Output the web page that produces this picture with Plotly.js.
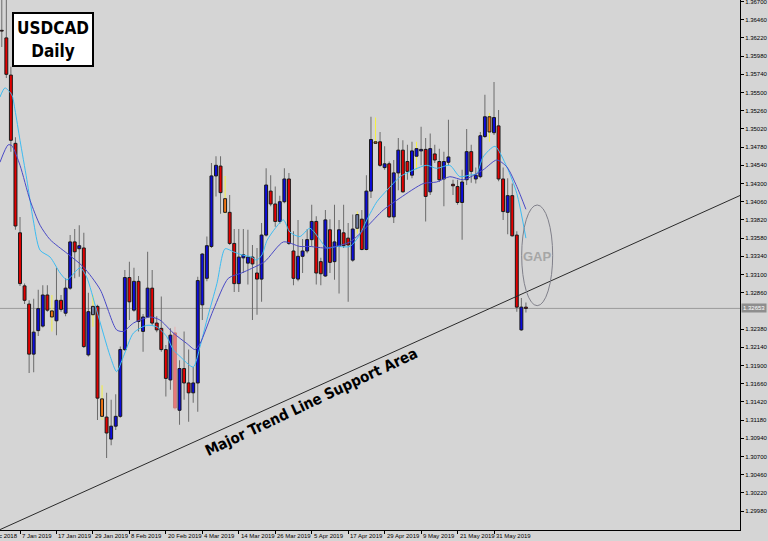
<!DOCTYPE html>
<html><head><meta charset="utf-8">
<script src="https://cdn.plot.ly/plotly-3.0.1.min.js"></script>
<style>html,body{margin:0;padding:0;background:#d5d5d5;}#chart{width:768px;height:541px;}</style>
</head><body><div id="chart"></div>
<script>
// Daily trading dates (one per candle)
const dates = [
'2018-12-31','2019-01-02','2019-01-03','2019-01-04',
'2019-01-07','2019-01-08','2019-01-09','2019-01-10','2019-01-11',
'2019-01-14','2019-01-15','2019-01-16','2019-01-17','2019-01-18',
'2019-01-21','2019-01-22','2019-01-23','2019-01-24','2019-01-25',
'2019-01-28','2019-01-29','2019-01-30','2019-01-31','2019-02-01',
'2019-02-04','2019-02-05','2019-02-06','2019-02-07','2019-02-08',
'2019-02-11','2019-02-12','2019-02-13','2019-02-14','2019-02-15',
'2019-02-18','2019-02-19','2019-02-20','2019-02-21','2019-02-22',
'2019-02-25','2019-02-26','2019-02-27','2019-02-28','2019-03-01',
'2019-03-04','2019-03-05','2019-03-06','2019-03-07','2019-03-08',
'2019-03-11','2019-03-12','2019-03-13','2019-03-14','2019-03-15',
'2019-03-18','2019-03-19','2019-03-20','2019-03-21','2019-03-22',
'2019-03-25','2019-03-26','2019-03-27','2019-03-28','2019-03-29',
'2019-04-01','2019-04-02','2019-04-03','2019-04-04','2019-04-05',
'2019-04-08','2019-04-09','2019-04-10','2019-04-11','2019-04-12',
'2019-04-15','2019-04-16','2019-04-17','2019-04-18','2019-04-19',
'2019-04-22','2019-04-23','2019-04-24','2019-04-25','2019-04-26',
'2019-04-29','2019-04-30','2019-05-01','2019-05-02','2019-05-03',
'2019-05-06','2019-05-07','2019-05-08','2019-05-09','2019-05-10',
'2019-05-13','2019-05-14','2019-05-15','2019-05-16','2019-05-17',
'2019-05-20','2019-05-21','2019-05-22','2019-05-23','2019-05-24',
'2019-05-27','2019-05-28','2019-05-29','2019-05-30','2019-05-31',
'2019-06-03','2019-06-04','2019-06-05','2019-06-06','2019-06-07',
'2019-06-10','2019-06-11'];

const open = [
1.3632,1.3622,1.3573,1.3483,
1.3365,1.3295,1.3271,1.3205,1.3236,
1.3242,1.3283,1.3262,1.3249,1.3276,
1.3259,1.3292,1.3353,1.3344,1.3345,
1.3204,1.3257,1.3268,1.3146,1.3122,
1.3093,1.3110,1.3123,1.3211,1.3306,
1.3263,1.3301,1.3235,1.3254,1.3292,
1.3246,1.3239,1.3211,1.3171,1.3233,
1.3131,1.3186,1.3167,1.3154,1.3167,
1.3270,1.3305,1.3347,1.3440,1.3453,
1.3410,1.3392,1.3351,1.3298,1.3332,
1.3325,1.3333,1.3312,1.3304,1.3362,
1.3420,1.3403,1.3380,1.3406,1.3436,
1.3341,1.3304,1.3334,1.3341,1.3356,
1.3380,1.3327,1.3308,1.3369,1.3327,
1.3347,1.3365,1.3358,1.3329,1.3371,
1.3383,1.3343,1.3420,1.3485,1.3485,
1.3451,1.3456,1.3386,1.3444,1.3474,
1.3459,1.3441,1.3466,1.3473,1.3475,
1.3419,1.3469,1.3459,1.3436,1.3458,
1.3429,1.3426,1.3405,1.3435,1.3472,
1.3436,1.3439,1.3492,1.3518,1.3497,
1.3506,1.3436,1.3392,1.3414,1.3362,
1.3237,1.3267];

const high = [
1.3675,1.3674,1.3584,1.3491,
1.3386,1.3298,1.3276,1.3278,1.3290,
1.3296,1.3296,1.3283,1.3319,1.3283,
1.3305,1.3362,1.3370,1.3375,1.3365,
1.3286,1.3283,1.3270,1.3164,1.3154,
1.3145,1.3152,1.3215,1.3316,1.3327,
1.3319,1.3308,1.3258,1.3340,1.3316,
1.3255,1.3281,1.3217,1.3239,1.3241,
1.3197,1.3235,1.3211,1.3188,1.3307,
1.3338,1.3360,1.3457,1.3466,1.3466,
1.3440,1.3415,1.3370,1.3370,1.3370,
1.3369,1.3349,1.3345,1.3378,1.3450,
1.3441,1.3426,1.3414,1.3450,1.3444,
1.3367,1.3382,1.3357,1.3370,1.3402,
1.3387,1.3332,1.3395,1.3383,1.3402,
1.3382,1.3402,1.3378,1.3389,1.3393,
1.3395,1.3441,1.3518,1.3517,1.3498,
1.3479,1.3459,1.3461,1.3490,1.3487,
1.3481,1.3485,1.3485,1.3505,1.3490,
1.3496,1.3481,1.3476,1.3472,1.3514,
1.3435,1.3435,1.3448,1.3502,1.3481,
1.3451,1.3498,1.3547,1.3523,1.3564,
1.3527,1.3451,1.3437,1.3430,1.3367,
1.3279,1.3273];

const low = [
1.3610,1.3569,1.3472,1.3369,
1.3295,1.3271,1.3180,1.3181,1.3229,
1.3240,1.3261,1.3235,1.3230,1.3261,
1.3255,1.3290,1.3305,1.3307,1.3213,
1.3202,1.3241,1.3118,1.3118,1.3068,
1.3085,1.3105,1.3121,1.3209,1.3250,
1.3261,1.3235,1.3208,1.3253,1.3243,
1.3234,1.3208,1.3149,1.3158,1.3131,
1.3112,1.3145,1.3116,1.3141,1.3129,
1.3250,1.3301,1.3345,1.3413,1.3390,
1.3390,1.3349,1.3287,1.3287,1.3312,
1.3297,1.3250,1.3257,1.3274,1.3360,
1.3400,1.3373,1.3377,1.3404,1.3349,
1.3296,1.3301,1.3312,1.3338,1.3347,
1.3297,1.3296,1.3307,1.3312,1.3303,
1.3285,1.3345,1.3274,1.3327,1.3364,
1.3342,1.3342,1.3411,1.3482,1.3452,
1.3448,1.3385,1.3378,1.3421,1.3418,
1.3435,1.3437,1.3448,1.3454,1.3380,
1.3415,1.3457,1.3432,1.3400,1.3454,
1.3415,1.3402,1.3356,1.3428,1.3431,
1.3430,1.3437,1.3490,1.3485,1.3494,
1.3433,1.3382,1.3363,1.3360,1.3261,
1.3236,1.3260];

const close = [
1.3631,1.3574,1.3487,1.3374,
1.3298,1.3276,1.3205,1.3234,1.3265,
1.3283,1.3263,1.3254,1.3276,1.3264,
1.3292,1.3353,1.3340,1.3348,1.3215,
1.3261,1.3268,1.3147,1.3123,1.3101,
1.3110,1.3123,1.3211,1.3306,1.3274,
1.3301,1.3248,1.3254,1.3292,1.3246,
1.3237,1.3211,1.3173,1.3230,1.3134,
1.3186,1.3167,1.3154,1.3167,1.3302,
1.3337,1.3348,1.3440,1.3454,1.3418,
1.3392,1.3351,1.3298,1.3333,1.3336,
1.3333,1.3324,1.3304,1.3362,1.3428,
1.3403,1.3380,1.3406,1.3436,1.3351,
1.3305,1.3334,1.3341,1.3356,1.3380,
1.3312,1.3311,1.3382,1.3326,1.3353,
1.3369,1.3348,1.3349,1.3370,1.3389,
1.3343,1.3420,1.3488,1.3483,1.3454,
1.3456,1.3386,1.3444,1.3474,1.3419,
1.3446,1.3473,1.3476,1.3475,1.3413,
1.3476,1.3461,1.3435,1.3459,1.3465,
1.3427,1.3405,1.3432,1.3472,1.3446,
1.3441,1.3493,1.3518,1.3498,1.3517,
1.3436,1.3393,1.3414,1.3361,1.3267,
1.3267,1.32653];

// Candles highlighted by the chart's indicator
const pinBars = ['2019-01-16','2019-01-31','2019-03-11','2019-04-25','2019-05-30'];
const greyBars = ['2019-01-29','2019-04-19'];
const yellowWickBars = ['2019-05-08'];
const paleBars = ['2019-02-22'];

// Moving averages (bar position, price)
const fastBar = [-0.4,0.7,2.2,2.9,4,5.5,6.9,8.4,10.6,12.8,14.3,17.2,18.6,20.8,23.8,25.2,26.7,28.9,31.8,34,36.2,37.6,39.1,42,43.5,45,47.2,49,50.8,52.6,54.8,55.9,57.1,58.2,60,61.8,63.2,65.4,67.6,69.8,71.3,73.5,76.4,78.5,80.1,82.3,84.5,87.4,89.6,93.2,95.4,98.3,100.5,102.5,104.2,105.6,108.2,110.8,113,115];
const fastMA = [1.3544,1.3556,1.3547,1.3527,1.3487,1.3435,1.3382,1.3342,1.3333,1.3312,1.3303,1.3319,1.3307,1.3263,1.3202,1.3182,1.3202,1.3233,1.3243,1.3241,1.3228,1.3211,1.3202,1.3188,1.3215,1.3250,1.3298,1.3344,1.3340,1.3336,1.3333,1.3329,1.3336,1.3355,1.3371,1.3382,1.3366,1.3360,1.3371,1.3356,1.3345,1.3347,1.3347,1.3362,1.3382,1.3406,1.3421,1.3439,1.3446,1.3454,1.3450,1.3454,1.3439,1.3441,1.3443,1.3465,1.3479,1.3452,1.3417,1.3358];
const slowBar = [-0.4,1.4,2.2,4,6.2,8.4,10.6,14.3,17.9,21.6,25.2,26.7,28.9,32.5,34.7,37.6,40.6,42.4,43.5,46.4,49.7,52.6,54.8,57.7,61.8,65.4,67.6,71.3,76.4,80.1,83.7,87.4,92.5,95.4,98.3,101.3,105.6,108.6,110.8,113,115];
const slowMA = [1.3458,1.3481,1.3480,1.3454,1.3408,1.3375,1.3356,1.3338,1.3320,1.3290,1.3237,1.3235,1.3246,1.3254,1.3250,1.3233,1.3219,1.3211,1.3219,1.3263,1.3305,1.3312,1.3318,1.3327,1.3353,1.3347,1.3347,1.3345,1.3353,1.3373,1.3395,1.3411,1.3430,1.3432,1.3439,1.3435,1.3448,1.3461,1.3452,1.3426,1.3396];

// Trend line anchor points (bar position, price)
const trendBar = [-0.39, 161.97];
const trendPrice = [1.29736, 1.34142];

const tickDates = ['2019-01-07','2019-01-17','2019-01-29','2019-02-08','2019-02-20','2019-03-04','2019-03-14','2019-03-26','2019-04-05','2019-04-17','2019-04-29','2019-05-09','2019-05-21','2019-05-31'];
const tickLabels = ['7 Jan 2019','17 Jan 2019','29 Jan 2019','8 Feb 2019','20 Feb 2019','4 Mar 2019','14 Mar 2019','26 Mar 2019','5 Apr 2019','17 Apr 2019','29 Apr 2019','9 May 2019','21 May 2019','31 May 2019'];
const priceTicks = [1.2998,1.3022,1.3046,1.3070,1.3094,1.3118,1.3142,1.3166,1.3190,1.3214,1.3238,1.3286,1.3310,1.3334,1.3358,1.3382,1.3406,1.3430,1.3454,1.3478,1.3502,1.3526,1.3550,1.3574,1.3598,1.3622,1.3646,1.3670];

const BLUE = '#0c0cdc', RED = '#e40000';
const YELLOW = '#f4f040';
const pos = dates.map((d, k) => k);

function bodyFill(k) {
  const d = dates[k];
  if (pinBars.includes(d)) return '#f07412';
  if (greyBars.includes(d)) return '#7482a8';
  if (paleBars.includes(d)) return '#e67a7a';
  return close[k] >= open[k] ? BLUE : RED;
}
function wickColor(k) {
  const d = dates[k];
  if (pinBars.includes(d) || greyBars.includes(d) || yellowWickBars.includes(d)) return YELLOW;
  if (paleBars.includes(d)) return '#eab0b0';
  return '#6c6c6c';
}
function bodyLine(k) {
  return paleBars.includes(dates[k]) ? '#c88080' : '#1a1a1a';
}

const traces = [
  {type: 'scatter', mode: 'lines', x: trendBar, y: trendPrice,
   line: {color: '#2a2a2a', width: 1}, hoverinfo: 'skip'},
  // wicks: high-low range of each candle
  {type: 'bar', x: pos, base: pos.map(k => low[k]), y: pos.map(k => high[k] - low[k]),
   width: 0.22, marker: {color: pos.map(wickColor), line: {width: 0}}, hoverinfo: 'skip'},
  // bodies: open-close range of each candle
  {type: 'bar', x: pos, base: pos.map(k => Math.min(open[k], close[k])),
   y: pos.map(k => Math.max(Math.abs(close[k] - open[k]), 0.00008)),
   width: 0.64, marker: {color: pos.map(bodyFill), line: {width: 1, color: pos.map(bodyLine)}}, hoverinfo: 'skip'},
  {type: 'scatter', mode: 'lines', x: fastBar, y: fastMA,
   line: {color: '#3cbcf2', width: 1, shape: 'spline', smoothing: 0.7}, hoverinfo: 'skip'},
  {type: 'scatter', mode: 'lines', x: slowBar, y: slowMA,
   line: {color: '#4a4ac6', width: 1, shape: 'spline', smoothing: 0.7}, hoverinfo: 'skip'}
];

const lastClose = close[close.length - 1];
const smallFont = {family: 'Liberation Sans, Arial, sans-serif', size: 6, color: '#000'};
const heavy = "'Liberation Sans Narrow', 'DejaVu Sans Condensed', 'Liberation Sans', Arial, sans-serif";

const dateAnnotations = tickDates.map((d, j) => ({
  xref: 'x', yref: 'paper', x: dates.indexOf(d), y: 0, xanchor: 'left', yanchor: 'top',
  xshift: 0, yshift: -1, text: tickLabels[j], showarrow: false, font: smallFont
}));

const layout = {
  width: 768, height: 541,
  margin: {l: 0, r: 28, t: 0, b: 11},
  paper_bgcolor: '#d5d5d5', plot_bgcolor: '#d5d5d5',
  showlegend: false, barmode: 'overlay',
  xaxis: {
    type: 'linear', range: [-0.39, 161.97],
    tickvals: tickDates.map(d => dates.indexOf(d)), showticklabels: false,
    ticks: 'outside', ticklen: 3, tickcolor: '#000', tickwidth: 1,
    showline: true, linecolor: '#000', linewidth: 1,
    showgrid: false, zeroline: false, fixedrange: true
  },
  yaxis: {
    side: 'right', range: [1.29731, 1.3672],
    tickvals: priceTicks, tickformat: '.5f', ticklabeloverflow: 'allow',
    ticks: 'outside', ticklen: 3, tickcolor: '#000',
    showline: true, linecolor: '#000', linewidth: 1,
    showgrid: false, zeroline: false, tickfont: smallFont, fixedrange: true
  },
  shapes: [
    {type: 'line', xref: 'paper', x0: 0, x1: 1, yref: 'y', y0: lastClose, y1: lastClose,
     line: {color: '#9c9c9c', width: 1}, layer: 'below'},
    {type: 'circle', xref: 'x', yref: 'y', x0: 114.07, x1: 120.87, y0: 1.32689, y1: 1.34017,
     line: {color: '#80808a', width: 1}}
  ],
  annotations: dateAnnotations.concat([
    {xref: 'paper', yref: 'y', x: 1, y: lastClose, xanchor: 'left', yanchor: 'middle', xshift: 1,
     text: lastClose.toFixed(5), showarrow: false, bgcolor: '#8e8e8e', borderpad: 1,
     font: {family: 'Liberation Sans, Arial, sans-serif', size: 6, color: '#ffffff'}},
    {xref: 'paper', yref: 'paper', x: -0.0257, y: 0, xanchor: 'left', yanchor: 'top', yshift: -1,
     text: '24 Dec 2018', showarrow: false, font: smallFont},
    {xref: 'paper', yref: 'paper', x: 0.0166, y: 0.9774, xanchor: 'left', yanchor: 'top',
     text: '<b>USDCAD</b><br><b>Daily</b>', showarrow: false, align: 'center',
     width: 78, height: 51, borderpad: 0, borderwidth: 2, bordercolor: '#000', bgcolor: '#ffffff',
     font: {family: heavy, size: 17, color: '#000'}},
    {xref: 'paper', yref: 'paper', x: 0.4208, y: 0.2408, xanchor: 'center', yanchor: 'middle',
     text: '<b>Major Trend Line Support Area</b>', textangle: -25.3, showarrow: false,
     font: {family: heavy, size: 15, color: '#000'}},
    {xref: 'paper', yref: 'paper', x: 0.7257, y: 0.5157, xanchor: 'center', yanchor: 'middle',
     text: '<b>GAP</b>', showarrow: false,
     font: {family: 'Liberation Sans, Arial, sans-serif', size: 13, color: '#a6a6a6'}}
  ])
};

Plotly.newPlot('chart', traces, layout, {staticPlot: true, displayModeBar: false});
</script>
</body></html>
